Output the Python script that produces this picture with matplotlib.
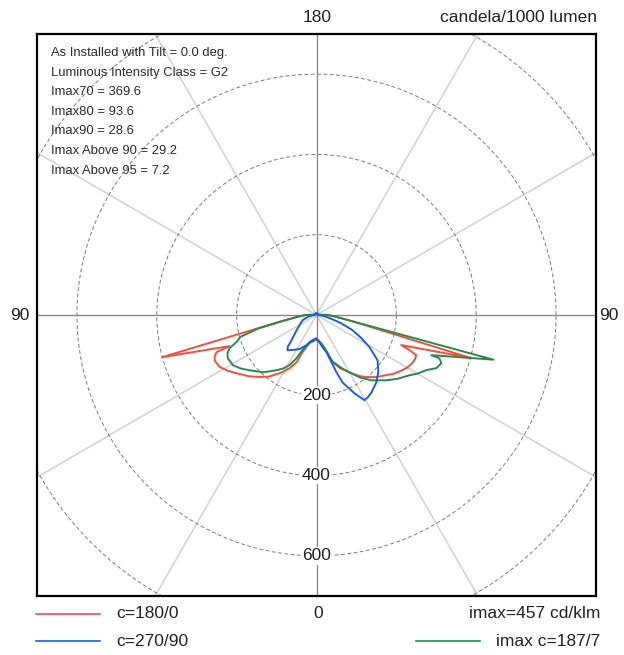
import numpy as np
import matplotlib
matplotlib.use("Agg")
import matplotlib.pyplot as plt

plt.rcParams['font.family'] = ['Liberation Sans', 'DejaVu Sans']

# ---------------- data (vertical angle from nadir in deg, cd/klm) ----------------
# c=180/0 plane (red)
red_c0_gamma = [0, 6, 10, 13.6, 18.8, 24, 30, 35, 38.9, 44, 49.4, 53, 57.4, 60, 63.4, 66, 68.2, 69.4, 70.6, 74.5, 80, 85, 90, 95, 100, 120, 150, 180]
red_c0_cd    = [62, 68, 74, 85, 124, 145, 165, 185, 199, 215, 230, 243, 255, 262, 268, 270, 269, 248, 225, 402, 93, 48, 28, 7, 5, 4, 4, 4]
red_c180_gamma = [0, 5, 10, 14, 20.7, 23, 27, 32, 38, 43, 48, 54, 58, 62, 66, 68, 69.7, 70.4, 74.8, 80, 85, 90, 95, 100, 120, 150, 180]
red_c180_cd    = [62, 64, 68, 72, 99, 128, 149, 170, 195, 211, 228, 247, 262, 275, 279, 275, 267, 231, 401, 90, 45, 27, 7, 5, 4, 4, 4]

# c=270/90 plane (blue)
blue_c90_gamma = [0, 6.3, 10, 15, 17.7, 19.3, 21.2, 26, 29.5, 32, 35.5, 41.8, 47.5, 53.6, 58.9, 63, 67.4, 72, 77, 85, 90, 100, 120, 150, 180]
blue_c90_cd    = [58, 68, 80, 96, 123, 151, 180, 217, 244, 242, 237, 225, 210, 190, 155, 125, 97, 62, 33, 14, 6, 4, 4, 4, 4]
blue_c270_gamma = [0, 9, 18.4, 26.6, 34, 39.6, 42, 45, 53, 60, 70, 80, 90, 100, 120, 150, 180]
blue_c270_cd    = [58, 63, 79, 95, 105, 114, 108, 88, 62, 48, 37, 20, 8, 5, 4, 4, 4]

# imax plane c=187/7 (green)
green_c7_gamma = [0, 6, 10, 14, 19, 25, 30, 35, 40.2, 47.1, 52, 57.2, 60, 63.4, 66.2, 69, 70.7, 70.8, 75.9, 80, 85, 90, 95, 100, 120, 150, 180]
green_c7_cd    = [60, 66, 72, 85, 122, 145, 165, 190, 213, 239, 258, 277, 292, 307, 328, 335, 326, 304, 457, 94, 48, 29, 7, 5, 4, 4, 4]
green_c187_gamma = [0, 8, 14.5, 21.8, 25, 28.4, 32, 36, 43, 50.6, 55, 59.2, 64.2, 67, 69.2, 71, 72.5, 74, 77, 80, 85, 90, 95, 100, 120, 150, 180]
green_c187_cd    = [60, 66, 70, 94, 119, 142, 157, 170, 195, 217, 232, 244, 247, 242, 233, 215, 205, 200, 150, 85, 45, 28, 7, 5, 4, 4, 4]

grid_radii = [200, 400, 600, 800]
radial_labels = [200, 400, 600]
spoke_angles = [30, 60, 120, 150]

info_lines = ["As Installed with Tilt = 0.0 deg.",
              "Luminous Intensity Class = G2",
              "Imax70 = 369.6",
              "Imax80 = 93.6",
              "Imax90 = 28.6",
              "Imax Above 90 = 29.2",
              "Imax Above 95 = 7.2"]

RED = '#f0503e'
BLUE = '#1b5fd6'
GREEN = '#2a8a4e'

W, H = 624, 655
fig = plt.figure(figsize=(W / 100, H / 100), dpi=100)
ax = fig.add_axes([37 / W, 1 - 596 / H, 559 / W, 562 / H])
ax.set_xlim(-700, 700)
ax.set_ylim(-700, 700)
ax.set_xticks([])
ax.set_yticks([])
for s in ax.spines.values():
    s.set_linewidth(1.6)
    s.set_color('black')


def fx(px):
    return px / W


def fy(py):
    return 1 - py / H


# grid
t = np.linspace(0, 2 * np.pi, 721)
for r in grid_radii:
    ax.plot(r * np.cos(t), r * np.sin(t), ls=(0, (4, 2.5)), color='#7a7a7a', lw=0.7, zorder=1)
for a in spoke_angles:
    g = np.radians(a)
    for side in (-1, 1):
        ax.plot([0, side * 1200 * np.sin(g)], [0, -1200 * np.cos(g)], color='#d6d6d6', lw=1.3, zorder=0.5)
ax.axhline(0, color='#8a8a8a', lw=1.0, zorder=1)
ax.axvline(0, color='#8a8a8a', lw=1.0, zorder=1)


def curve(left_g, left_i, right_g, right_i):
    lg = np.radians(np.array(left_g))[::-1]
    li = np.array(left_i, float)[::-1]
    rg = np.radians(np.array(right_g))
    ri = np.array(right_i, float)
    x = np.concatenate([-li * np.sin(lg), ri * np.sin(rg)])
    y = np.concatenate([-li * np.cos(lg), -ri * np.cos(rg)])
    return x, y


for (lg, li, rg, ri, col) in [
        (red_c180_gamma, red_c180_cd, red_c0_gamma, red_c0_cd, RED),
        (green_c187_gamma, green_c187_cd, green_c7_gamma, green_c7_cd, GREEN),
        (blue_c270_gamma, blue_c270_cd, blue_c90_gamma, blue_c90_cd, BLUE)]:
    x, y = curve(lg, li, rg, ri)
    ax.plot(x, y, color=col, lw=1.4, zorder=3, solid_joinstyle='round')

for r in radial_labels:
    ax.text(0, -r, str(r), ha='center', va='center', fontsize=12.5, color='#222222',
            bbox=dict(facecolor='white', edgecolor='none', pad=1.0), zorder=4)

# info text
for i, line in enumerate(info_lines):
    ax.text(fx(51), fy(53 + i * 19.6), line, transform=fig.transFigure, fontsize=9.4,
            color='#2a2a3a', ha='left', va='center')

# angle labels
fig.text(fx(20), fy(316), "90", ha='center', va='center', fontsize=12.5, color='#222222')
fig.text(fx(609), fy(316), "90", ha='center', va='center', fontsize=12.5, color='#222222')
fig.text(fx(317), fy(18), "180", ha='center', va='center', fontsize=12.5, color='#222222')
fig.text(fx(597), fy(18), "candela/1000 lumen", ha='right', va='center', fontsize=12.5, color='#222222')
fig.text(fx(318), fy(614), "0", ha='center', va='center', fontsize=12.5, color='#222222')

# legend
fig.add_artist(plt.Line2D([fx(36), fx(100)], [fy(614), fy(614)], color=RED, lw=1.2))
fig.text(fx(116), fy(614), "c=180/0", ha='left', va='center', fontsize=12.5, color='#222222')
fig.add_artist(plt.Line2D([fx(36), fx(100)], [fy(641), fy(641)], color=BLUE, lw=1.2))
fig.text(fx(116), fy(641), "c=270/90", ha='left', va='center', fontsize=12.5, color='#222222')
fig.text(fx(600), fy(614), "imax=457 cd/klm", ha='right', va='center', fontsize=12.5, color='#222222')
fig.add_artist(plt.Line2D([fx(416), fx(480)], [fy(641), fy(641)], color=GREEN, lw=1.2))
fig.text(fx(600), fy(641), "imax c=187/7", ha='right', va='center', fontsize=12.5, color='#222222')

fig.savefig("out.png", dpi=100)
